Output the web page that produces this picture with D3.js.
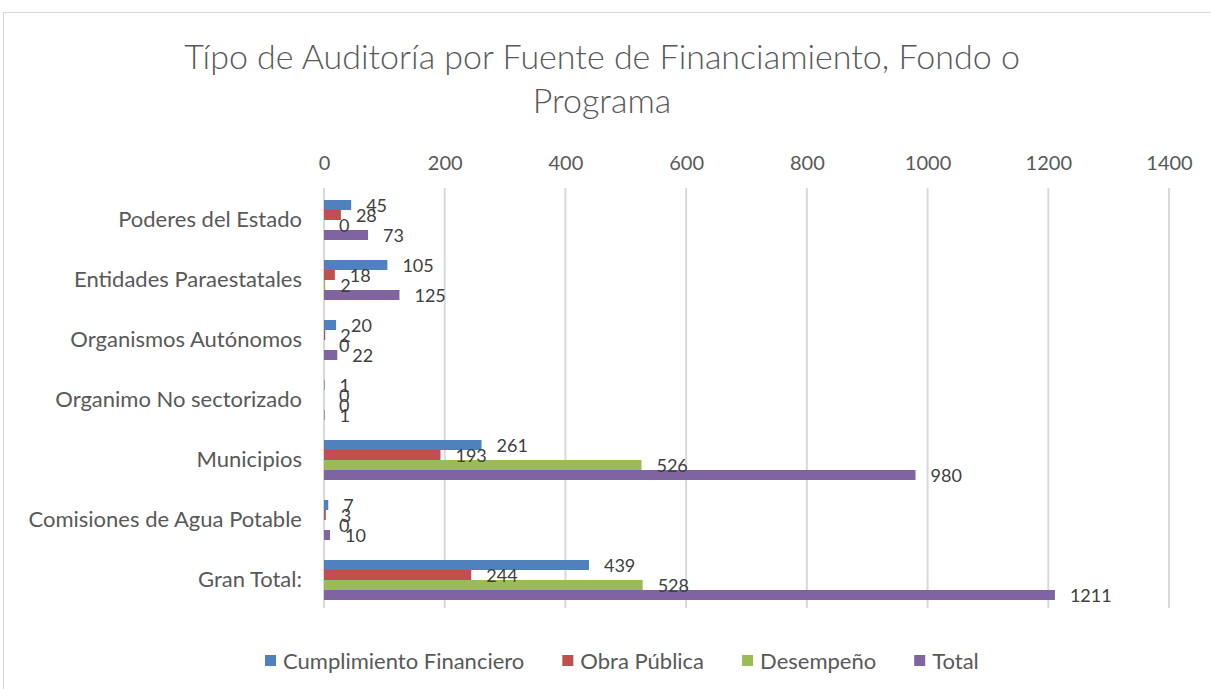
<!DOCTYPE html>
<html>
<head>
<meta charset="utf-8">
<script src="https://cdn.jsdelivr.net/npm/d3@7"></script>
<style>
  body { margin: 0; background: #fff; }
  svg { font-family: Lato, "Open Sans", sans-serif; }
</style>
</head>
<body>
<div id="root"></div>
<script>
// chart values
const categories = [
  'Poderes del Estado',
  'Entidades Paraestatales',
  'Organismos Autónomos',
  'Organimo No sectorizado',
  'Municipios',
  'Comisiones de Agua Potable',
  'Gran Total:',
];
const seriesNames = ['Cumplimiento Financiero', 'Obra Pública', 'Desempeño', 'Total'];
const cumplimiento = [45, 105, 20, 1, 261, 7, 439];
const obraPublica = [28, 18, 2, 0, 193, 3, 244];
const desempeno = [0, 2, 0, 0, 526, 0, 528];
const total = [73, 125, 22, 1, 980, 10, 1211];
const xTicks = [0, 200, 400, 600, 800, 1000, 1200, 1400];
const titleLines = ['Típo de Auditoría por Fuente de Financiamiento, Fondo o', 'Programa'];

const seriesValues = [cumplimiento, obraPublica, desempeno, total];
const colors = ['#4F81BD', '#C0504D', '#9BBB59', '#8064A2'];

const width = 1211;
const height = 689;
const plot = { left: 324, right: 1169, top: 190, bottom: 610 };

const svg = d3.select('#root')
  .append('svg')
  .attr('width', width)
  .attr('height', height);

// chart frame
svg.append('rect')
  .attr('x', 3.5).attr('y', 12.5)
  .attr('width', 1230).attr('height', 700)
  .attr('fill', '#fff')
  .attr('stroke', '#D9D9D9');

// title
svg.append('text')
  .attr('x', 602)
  .attr('text-anchor', 'middle')
  .attr('fill', '#595959')
  .attr('font-size', 34)
  .attr('font-weight', 300)
  .selectAll('tspan')
  .data(titleLines)
  .join('tspan')
  .attr('x', 602)
  .attr('y', (d, i) => 69 + i * 44)
  .text(d => d);

const x = d3.scaleLinear()
  .domain([0, 1400])
  .range([plot.left, plot.right]);

const y = d3.scaleBand()
  .domain(categories)
  .range([plot.top, plot.bottom]);

const ySub = d3.scaleBand()
  .domain(d3.range(seriesNames.length))
  .range([10, y.bandwidth() - 10]);

// gridlines
svg.append('g')
  .selectAll('line')
  .data(xTicks)
  .join('line')
  .attr('x1', d => x(d)).attr('x2', d => x(d))
  .attr('y1', plot.top - 2).attr('y2', plot.bottom - 2)
  .attr('stroke', '#D9D9D9')
  .attr('stroke-width', 2);

// top axis labels
const xAxis = svg.append('g')
  .attr('transform', `translate(0, ${plot.top - 20})`)
  .call(d3.axisTop(x).tickValues(xTicks).tickFormat(d3.format('d')).tickSize(0).tickPadding(0));
xAxis.select('.domain').remove();
xAxis.selectAll('text')
  .attr('fill', '#595959')
  .attr('font-size', 20)
  .attr('font-family', 'Lato, "Open Sans", sans-serif');

// category labels
const yAxis = svg.append('g')
  .attr('transform', `translate(${plot.left - 22}, 0)`)
  .call(d3.axisLeft(y).tickSize(0).tickPadding(0));
yAxis.select('.domain').remove();
yAxis.selectAll('text')
  .attr('fill', '#595959')
  .attr('font-size', 22)
  .attr('font-family', 'Lato, "Open Sans", sans-serif');

// bars and labels
const rows = [];
seriesValues.forEach((vals, s) => {
  vals.forEach((v, c) => rows.push({ s, cat: categories[c], v }));
});

const barGroup = svg.append('g');
barGroup.selectAll('rect')
  .data(rows)
  .join('rect')
  .attr('x', x(0))
  .attr('y', d => y(d.cat) + ySub(d.s))
  .attr('width', d => x(d.v) - x(0))
  .attr('height', ySub.bandwidth())
  .attr('fill', d => colors[d.s]);

barGroup.selectAll('text')
  .data(rows)
  .join('text')
  .attr('x', d => x(d.v) + 15)
  .attr('y', d => y(d.cat) + ySub(d.s) + ySub.bandwidth() / 2)
  .attr('dy', '0.38em')
  .attr('fill', '#404040')
  .attr('font-size', 18)
  .text(d => d.v);

// legend
const legend = svg.append('g').attr('font-size', 22).attr('fill', '#595959');
let lx = 265;
seriesNames.forEach((name, i) => {
  const item = legend.append('g').attr('transform', `translate(${lx}, 661)`);
  item.append('rect')
    .attr('x', 0).attr('y', -6)
    .attr('width', 11).attr('height', 11)
    .attr('fill', colors[i]);
  const t = item.append('text')
    .attr('x', 18).attr('y', 0)
    .attr('dy', '0.35em')
    .text(name);
  lx += 18 + t.node().getComputedTextLength() + 38;
});
</script>
</body>
</html>
